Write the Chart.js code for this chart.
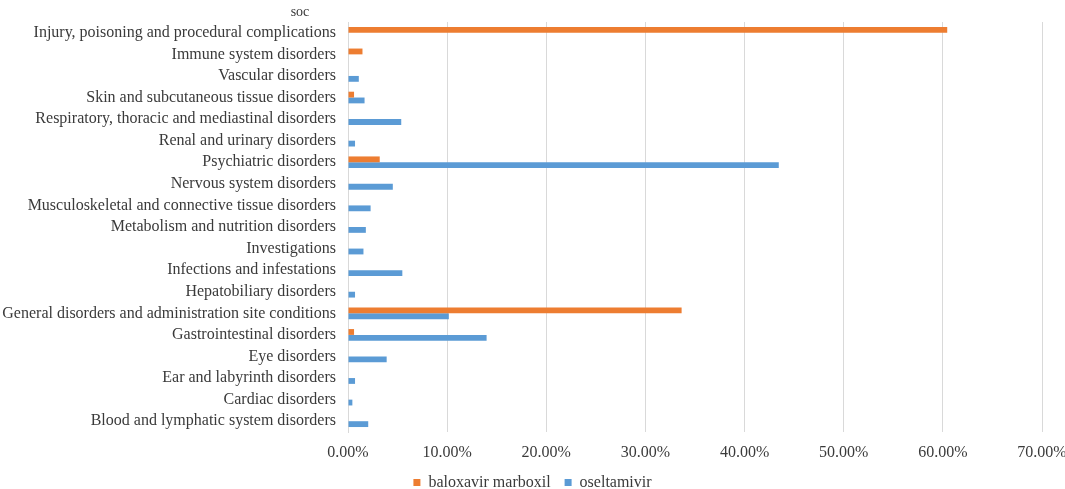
<!DOCTYPE html>
<html>
<head>
<meta charset="utf-8">
<script src="https://cdn.jsdelivr.net/npm/chart.js@4/dist/chart.umd.min.js"></script>
<style>
html,body{margin:0;padding:0;background:#fff;}
#wrap{width:1065px;height:489px;position:relative;}
</style>
</head>
<body>
<div id="wrap"><canvas id="c"></canvas></div>
<script>
const categories = [
  "Injury, poisoning and procedural complications",
  "Immune system disorders",
  "Vascular disorders",
  "Skin and subcutaneous tissue disorders",
  "Respiratory, thoracic and mediastinal disorders",
  "Renal and urinary disorders",
  "Psychiatric disorders",
  "Nervous system disorders",
  "Musculoskeletal and connective tissue disorders",
  "Metabolism and nutrition disorders",
  "Investigations",
  "Infections and infestations",
  "Hepatobiliary disorders",
  "General disorders and administration site conditions",
  "Gastrointestinal disorders",
  "Eye disorders",
  "Ear and labyrinth disorders",
  "Cardiac disorders",
  "Blood and lymphatic system disorders"
];
const baloxavir = [60.44, 1.46, null, 0.61, null, null, 3.2, null, null, null, null, null, null, 33.65, 0.61, null, null, null, null];
const oseltamivir = [null, null, 1.09, 1.67, 5.37, 0.71, 43.45, 4.52, 2.28, 1.8, 1.56, 5.48, 0.71, 10.17, 13.98, 3.9, 0.71, 0.44, 2.04];
const xTicks = [0, 10, 20, 30, 40, 50, 60, 70];

const FONT = "'Liberation Serif', 'Times New Roman', serif";
const TXT = '#3a3a3a';

const socPlugin = {
  id: 'soc',
  afterDraw(chart) {
    const y = chart.scales.y;
    const ctx = chart.ctx;
    ctx.save();
    ctx.font = '14px ' + FONT;
    ctx.fillStyle = TXT;
    ctx.textAlign = 'center';
    ctx.textBaseline = 'middle';
    ctx.fillText('soc', y.right - 48, 12);
    ctx.restore();
  }
};

const chart = new Chart(document.getElementById('c'), {
  type: 'bar',
  data: {
    labels: categories,
    datasets: [
      { label: 'baloxavir marboxil', data: baloxavir, backgroundColor: '#ED7D31', borderWidth: 0 },
      { label: 'oseltamivir', data: oseltamivir, backgroundColor: '#5B9BD5', borderWidth: 0 }
    ]
  },
  options: {
    indexAxis: 'y',
    responsive: true,
    maintainAspectRatio: false,
    animation: false,
    layout: { padding: { top: 22, right: 0, left: 0, bottom: 0 } },
    datasets: { bar: { categoryPercentage: 0.54, barPercentage: 1.0 } },
    scales: {
      x: {
        min: 0, max: 70,
        afterBuildTicks(scale) { scale.ticks = xTicks.map(v => ({ value: v })); },
        afterFit(scale) { scale.height = 28.4; scale.paddingRight = 23; },
        ticks: {
          callback: v => v.toFixed(2) + '%',
          font: { family: FONT, size: 16 },
          color: TXT,
          padding: 11.5,
          maxRotation: 0
        },
        grid: { color: '#d9d9d9', lineWidth: 1, drawTicks: false },
        border: { display: false }
      },
      y: {
        afterFit(scale) { scale.width = 348; },
        ticks: {
          font: { family: FONT, size: 16 },
          color: TXT,
          padding: 12,
          autoSkip: false
        },
        grid: { display: false, drawTicks: false },
        border: { display: true, color: '#d9d9d9' }
      }
    },
    plugins: {
      legend: {
        position: 'bottom',
        labels: {
          font: { family: FONT, size: 16 },
          color: TXT,
          boxWidth: 7,
          boxHeight: 7,
          padding: 14
        }
      },
      tooltip: { enabled: false }
    }
  },
  plugins: [socPlugin]
});
const origFit = chart.legend.fit;
chart.legend.fit = function () { origFit.call(this); this.height = 28.6; };
chart.update();
</script>
</body>
</html>
